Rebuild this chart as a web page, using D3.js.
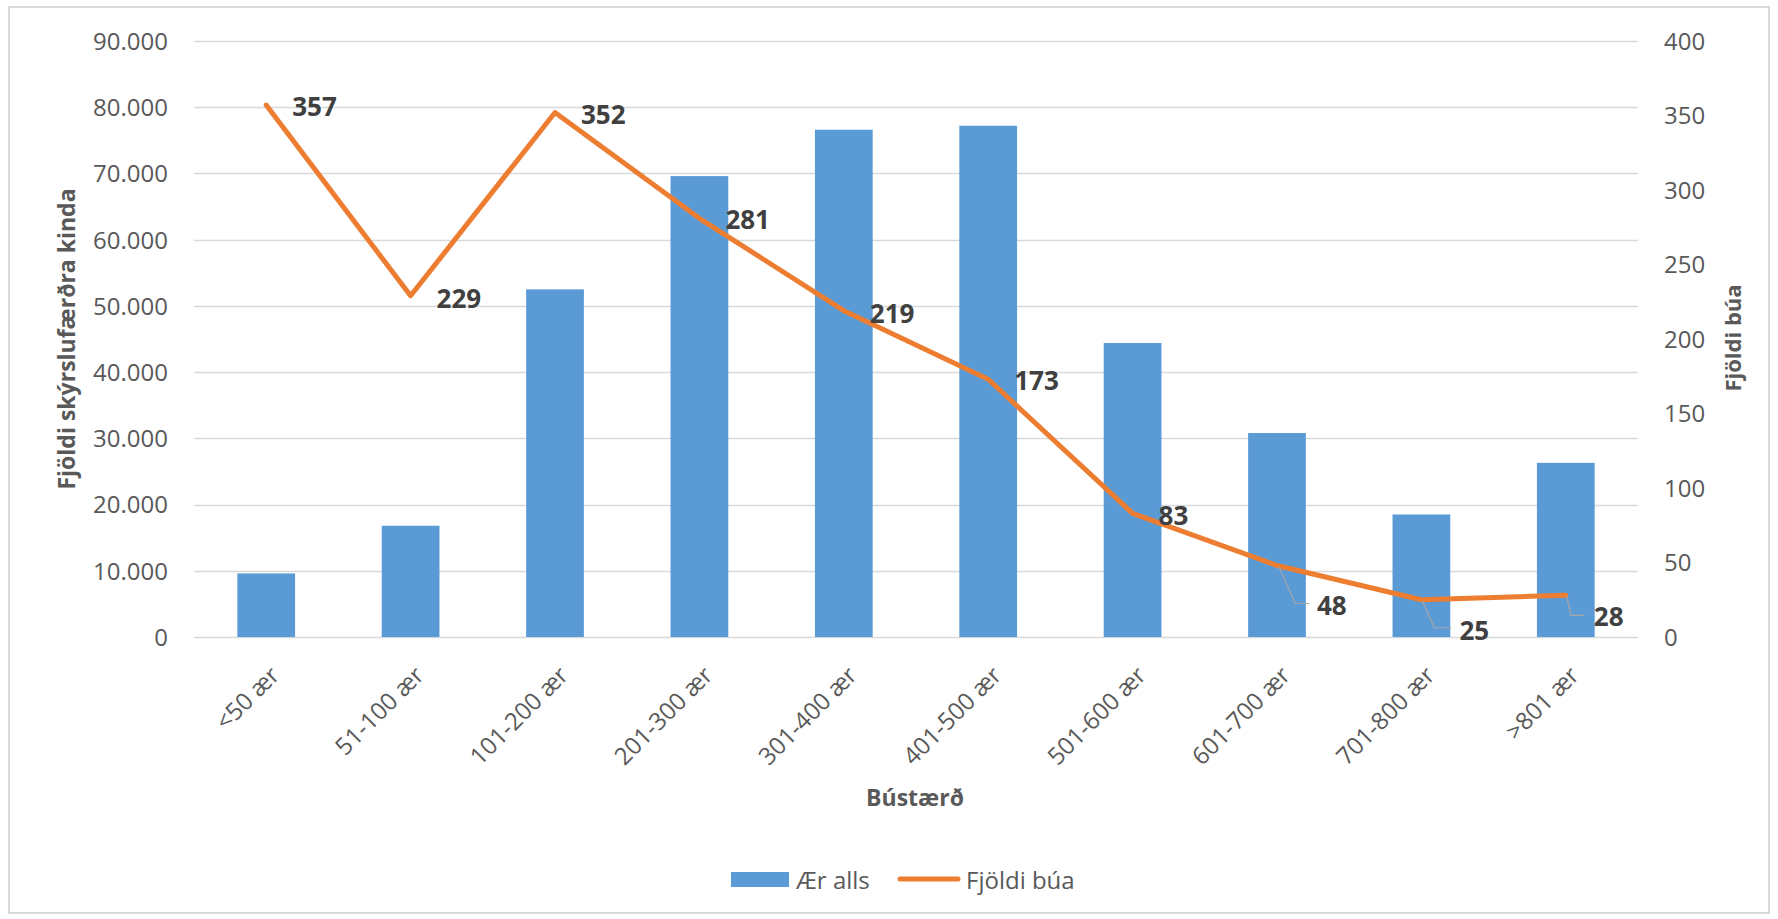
<!DOCTYPE html>
<html>
<head>
<meta charset="utf-8">
<script src="https://cdn.jsdelivr.net/npm/d3@7"></script>
<style>
  html, body { margin: 0; padding: 0; background: #fff; }
  svg { display: block; }
  svg text { font-family: "Open Sans", "Noto Sans", sans-serif; }
</style>
</head>
<body>
<svg id="chart" width="1778" height="919"></svg>
<script>
// ---- data ----
const categories = ["<50 ær", "51-100 ær", "101-200 ær", "201-300 ær", "301-400 ær",
                    "401-500 ær", "501-600 ær", "601-700 ær", "701-800 ær", ">801 ær"];
const aerAlls = [9600, 16800, 52500, 69600, 76600, 77200, 44400, 30800, 18500, 26300];
const fjoldiBua = [357, 229, 352, 281, 219, 173, 83, 48, 25, 28];
const leftTicks = [0, 10000, 20000, 30000, 40000, 50000, 60000, 70000, 80000, 90000];
const rightTicks = [0, 50, 100, 150, 200, 250, 300, 350, 400];
const seriesNames = ["Ær alls", "Fjöldi búa"];
const titles = { x: "Bústærð", yLeft: "Fjöldi skýrslufærðra kinda", yRight: "Fjöldi búa" };

// ---- layout (label placement, not data) ----
// label offsets from point: [dx, dy, leader?]
const labelPlacement = [
  [26, 1, null], [26, 2, null], [26, 1, null], [26, 1, null], [26, 2, null],
  [26, 1, null], [26, 2, null],
  [40, 40, [[2, 1], [18, 38], [32, 38]]],
  [38, 30, [[1, 1], [13, 28], [30, 28]]],
  [28, 21, [[1, 1], [5, 20], [19, 20]]]
];

const svg = d3.select("#chart");
const M = { left: 194, right: 1638, top: 41, bottom: 637 };
const BLUE = "#5b9bd5", ORANGE = "#ed7d31", GRID = "#d9d9d9", TXT = "#595959", LBL = "#404040";
const FONT = '"Open Sans", "Noto Sans", sans-serif';

// frame
svg.append("rect").attr("x", 9).attr("y", 7).attr("width", 1760).attr("height", 906)
  .attr("fill", "#fff").attr("stroke", GRID).attr("stroke-width", 2);

const x = d3.scaleBand().domain(categories).range([M.left, M.right])
  .paddingInner(0.6).paddingOuter(0.3);
const yL = d3.scaleLinear().domain([0, 90000]).range([M.bottom, M.top]);
const yR = d3.scaleLinear().domain([0, 400]).range([M.bottom, M.top]);

const loc = d3.formatLocale({ decimal: ",", thousands: ".", grouping: [3], currency: ["", " kr."] });
const fmtL = loc.format(",d");

// gridlines
svg.append("g").selectAll("line").data(leftTicks).join("line")
  .attr("x1", M.left).attr("x2", M.right)
  .attr("y1", d => Math.round(yL(d)) + 0.5).attr("y2", d => Math.round(yL(d)) + 0.5)
  .attr("stroke", GRID).attr("stroke-width", 1.6);

// left axis
const gL = svg.append("g").attr("transform", `translate(${M.left},0)`)
  .call(d3.axisLeft(yL).tickValues(leftTicks).tickFormat(fmtL).tickSize(0).tickPadding(26))
  .attr("font-family", FONT);
gL.select(".domain").remove();
gL.selectAll("text").attr("fill", TXT).style("font-size", "24px").attr("dy", "0.35em");

// right axis
const gR = svg.append("g").attr("transform", `translate(${M.right},0)`)
  .call(d3.axisRight(yR).tickValues(rightTicks).tickFormat(d3.format("d")).tickSize(0).tickPadding(26))
  .attr("font-family", FONT);
gR.select(".domain").remove();
gR.selectAll("text").attr("fill", TXT).style("font-size", "24px").attr("dy", "0.35em");

// bars
svg.append("g").selectAll("rect").data(aerAlls).join("rect")
  .attr("x", (d, i) => x(categories[i]))
  .attr("width", x.bandwidth())
  .attr("y", d => yL(d))
  .attr("height", d => yL(0) - yL(d))
  .attr("fill", BLUE);

// x axis labels
const gX = svg.append("g").attr("transform", `translate(0,${M.bottom})`)
  .call(d3.axisBottom(x).tickSize(0).tickPadding(0))
  .attr("font-family", FONT);
gX.select(".domain").remove();
gX.selectAll(".tick text")
  .attr("fill", TXT).style("font-size", "24px")
  .attr("text-anchor", "end")
  .attr("dominant-baseline", "central")
  .attr("y", 0).attr("dy", 0)
  .attr("transform", "translate(8,33) rotate(-45)");

// line
const cx = i => x(categories[i]) + x.bandwidth() / 2;
const line = d3.line().x((d, i) => cx(i)).y(d => yR(d));
svg.append("path").datum(fjoldiBua).attr("d", line)
  .attr("fill", "none").attr("stroke", ORANGE).attr("stroke-width", 5)
  .attr("stroke-linejoin", "round").attr("stroke-linecap", "round");

// leader lines + data labels
const gLab = svg.append("g");
fjoldiBua.forEach((v, i) => {
  const px = cx(i), py = yR(v);
  const [dx, dy, leader] = labelPlacement[i];
  if (leader) {
    gLab.append("polyline")
      .attr("points", leader.map(p => `${px + p[0]},${py + p[1]}`).join(" "))
      .attr("fill", "none").attr("stroke", "#a6a6a6").attr("stroke-width", 1.2);
  }
  gLab.append("text").attr("x", px + dx).attr("y", py + dy)
    .attr("dominant-baseline", "central")
    .attr("fill", LBL).style("font-size", "26px").style("font-weight", "700")
    .text(v);
});

// axis titles
svg.append("text").attr("x", 915).attr("y", 797).attr("text-anchor", "middle")
  .attr("dominant-baseline", "central")
  .attr("fill", TXT).style("font-size", "23px").style("font-weight", "700").text(titles.x);
svg.append("text").attr("transform", `translate(66,339) rotate(-90)`)
  .attr("text-anchor", "middle").attr("dominant-baseline", "central")
  .attr("fill", TXT).style("font-size", "23px").style("font-weight", "700").text(titles.yLeft);
svg.append("text").attr("transform", `translate(1732,338) rotate(-90)`)
  .attr("text-anchor", "middle").attr("dominant-baseline", "central")
  .attr("fill", TXT).style("font-size", "22px").style("font-weight", "700").text(titles.yRight);

// legend
const lg = svg.append("g");
lg.append("rect").attr("x", 731).attr("y", 872).attr("width", 58).attr("height", 15).attr("fill", BLUE);
lg.append("text").attr("x", 796).attr("y", 879).attr("dominant-baseline", "central")
  .attr("fill", TXT).style("font-size", "24px").text(seriesNames[0]);
lg.append("line").attr("x1", 900).attr("x2", 958).attr("y1", 879).attr("y2", 879)
  .attr("stroke", ORANGE).attr("stroke-width", 5).attr("stroke-linecap", "round");
lg.append("text").attr("x", 966).attr("y", 879).attr("dominant-baseline", "central")
  .attr("fill", TXT).style("font-size", "24px").text(seriesNames[1]);
</script>
</body>
</html>
